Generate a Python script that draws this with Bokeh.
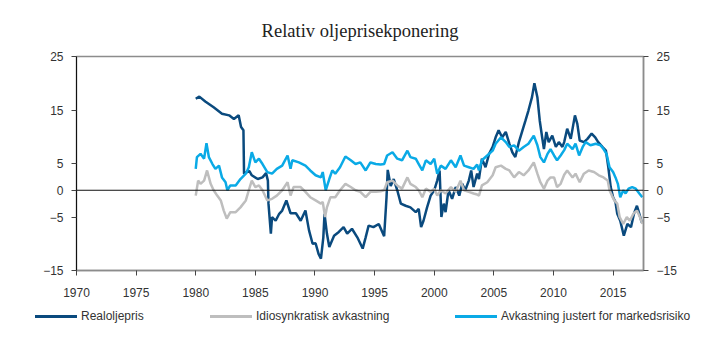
from bokeh.plotting import figure
from bokeh.models import Range1d, LinearAxis, FixedTicker, Span, Div
from bokeh.layouts import column
from bokeh.embed import file_html
from bokeh.resources import INLINE

title_text = "Relativ oljeprisekponering"
series_names = ["Realoljepris", "Idiosynkratisk avkastning", "Avkastning justert for markedsrisiko"]
x_ticks = [1970, 1975, 1980, 1985, 1990, 1995, 2000, 2005, 2010, 2015]
y_ticks = [-15, -5, 0, 5, 15, 25]

real_x = [1980.0, 1980.3, 1980.8, 1981.5, 1982.2, 1982.8, 1983.2, 1983.6, 1983.8, 1984.0, 1984.05, 1984.5,
          1984.7, 1985.2, 1985.6, 1985.9, 1986.05, 1986.1, 1986.3, 1986.4, 1986.7, 1987.0, 1987.25, 1987.6,
          1987.95, 1988.4, 1988.8, 1989.2, 1989.5, 1989.8, 1990.05, 1990.3, 1990.5, 1990.7, 1990.8, 1991.0,
          1991.2, 1991.6, 1992.0, 1992.4, 1992.7, 1993.1, 1993.55, 1994.0, 1994.25, 1994.5, 1994.9, 1995.35,
          1995.8, 1996.0, 1996.1, 1996.35, 1996.6, 1996.9, 1997.2, 1997.6, 1998.0, 1998.45, 1998.7, 1998.9,
          1999.1, 1999.4, 1999.7, 2000.0, 2000.25, 2000.45, 2000.6, 2000.8, 2000.95, 2001.2, 2001.5, 2001.8,
          2002.1, 2002.35, 2002.6, 2002.9, 2003.1, 2003.3, 2003.6, 2003.75, 2004.0, 2004.3, 2004.6, 2004.9,
          2005.15, 2005.4, 2005.7, 2006.0, 2006.3, 2006.55, 2006.8, 2007.1, 2007.4, 2007.65, 2007.9, 2008.2,
          2008.4, 2008.65, 2008.85, 2009.05, 2009.2, 2009.4, 2009.6, 2009.9, 2010.2, 2010.45, 2010.75, 2010.9,
          2011.15, 2011.45, 2011.8, 2012.0, 2012.2, 2012.55, 2012.85, 2013.2, 2013.5, 2013.75, 2014.1, 2014.4,
          2014.6, 2014.8, 2015.0, 2015.2, 2015.35, 2015.6, 2015.9, 2016.2, 2016.5, 2016.75, 2017.0, 2017.2,
          2017.4]
real_y = [17.1, 17.5, 16.6, 15.5, 14.3, 14.0, 13.3, 14.0, 11.8, 11.2, 3.1, 3.6,
          2.8, 2.1, 2.4, 3.2, 1.8, -2.5, -8.1, -5.0, -5.7, -4.4, -3.8, -1.9,
          -4.3, -4.3, -5.7, -3.8, -7.5, -10.0, -9.9, -11.9, -12.8, -8.8, -4.4, -8.1,
          -10.6, -8.5, -7.8, -6.9, -8.1, -7.2, -8.8, -10.9, -8.8, -6.6, -6.9, -6.3,
          -8.6, -1.3, 3.8, 0.8, 2.1, 0.0, -2.5, -2.9, -3.2, -4.1, -3.5, -6.9,
          -5.7, -3.2, -1.0, 0.0, 1.8, 3.7, -5.0, -2.5, -4.1, 0.0, -1.6, 0.6,
          -1.0, 1.2, 0.0, 1.8, 3.7, 0.6, 3.1, 2.1, 5.9, 4.3, 6.8, 8.1,
          9.9, 11.2, 9.9, 10.9, 8.7, 7.1, 6.2, 9.0, 11.2, 13.0, 14.9, 17.4,
          20.0, 17.4, 13.0, 9.9, 7.7, 10.9, 9.0, 10.2, 8.1, 9.0, 8.1, 9.0,
          11.5, 9.6, 14.0, 12.4, 9.3, 9.0, 9.6, 10.6, 9.9, 9.0, 8.1, 7.4,
          4.3, 0.6, -1.3, -2.2, -4.4, -5.7, -8.5, -6.3, -6.9, -4.4, -2.9, -4.4,
          -6.0]

idio_x = [1980.0, 1980.2, 1980.4, 1980.7, 1980.95, 1981.25, 1981.5, 1981.8, 1982.1, 1982.35, 1982.6, 1982.9,
          1983.35, 1983.75, 1984.2, 1984.45, 1984.7, 1985.0, 1985.3, 1985.6, 1986.0, 1986.4, 1986.8, 1987.25,
          1987.7, 1987.95, 1988.2, 1988.8, 1989.2, 1989.6, 1990.05, 1990.5, 1990.65, 1990.85, 1991.0, 1991.3,
          1991.7, 1992.1, 1992.55, 1993.0, 1993.4, 1993.8, 1994.25, 1994.65, 1995.1, 1995.5, 1995.8, 1996.05,
          1996.5, 1996.9, 1997.3, 1997.75, 1998.0, 1998.45, 1998.7, 1999.0, 1999.3, 1999.7, 2000.0, 2000.25,
          2000.55, 2000.95, 2001.4, 2001.8, 2002.2, 2002.5, 2002.9, 2003.3, 2003.6, 2003.75, 2004.0, 2004.45,
          2004.9, 2005.15, 2005.6, 2006.0, 2006.3, 2006.7, 2007.1, 2007.5, 2007.9, 2008.35, 2008.65, 2008.9,
          2009.2, 2009.5, 2009.75, 2010.05, 2010.3, 2010.6, 2010.9, 2011.15, 2011.6, 2011.85, 2012.2, 2012.55,
          2012.95, 2013.4, 2013.8, 2014.2, 2014.55, 2014.7, 2014.9, 2015.1, 2015.35, 2015.55, 2015.85, 2016.15,
          2016.4, 2016.7, 2017.0, 2017.25, 2017.45]
idio_y = [-1.0, 1.8, 1.2, 1.8, 3.7, 1.2, 0.0, -1.0, -1.9, -3.8, -5.3, -4.1,
          -4.1, -3.2, -1.9, 0.0, 1.8, 0.6, 0.9, 0.0, -1.9, -1.6, -1.0, 0.0,
          1.5, -1.0, 0.6, 0.6, -0.3, -1.3, -1.9, -2.5, -2.2, -5.0, -3.2, -1.3,
          -1.3, 0.0, 1.2, 0.6, 0.0, -0.3, -1.3, -0.3, -0.3, -0.2, 0.0, 1.5,
          1.8, 0.9, 0.3, 2.4, 1.2, 0.6, 0.0, -1.3, 0.3, -0.3, 0.3, -1.0,
          0.0, -0.6, 0.6, -0.3, 1.8, 0.0, -0.3, -0.6, -0.8, -1.0, 0.9, 1.5,
          2.8, 4.3, 4.6, 4.0, 3.7, 2.4, 3.4, 2.8, 3.7, 5.2, 3.1, 1.5,
          0.3, 1.8, 2.4, 2.4, 0.6, 1.2, 2.9, 3.7, 2.4, 3.1, 1.5, 3.1,
          3.7, 3.4, 2.8, 2.4, 1.8, 0.0, -1.0, -1.9, -2.5, -5.0, -6.3, -5.0,
          -5.7, -4.4, -3.8, -5.0, -6.3]

adj_x = [1980.0, 1980.1, 1980.4, 1980.7, 1980.9, 1981.1, 1981.4, 1981.65, 1981.95, 1982.2, 1982.5, 1982.65,
         1982.9, 1983.35, 1983.75, 1984.2, 1984.45, 1984.7, 1985.0, 1985.3, 1985.6, 1986.0, 1986.4, 1986.8,
         1987.25, 1987.7, 1987.95, 1988.1, 1988.65, 1989.2, 1989.6, 1990.05, 1990.5, 1990.65, 1990.9, 1991.2,
         1991.45, 1991.7, 1992.1, 1992.55, 1993.0, 1993.4, 1993.8, 1994.25, 1994.65, 1995.1, 1995.5, 1995.8,
         1996.05, 1996.5, 1996.9, 1997.3, 1997.75, 1998.0, 1998.45, 1998.7, 1999.0, 1999.3, 1999.7, 2000.0,
         2000.25, 2000.55, 2000.95, 2001.4, 2001.8, 2002.2, 2002.5, 2002.9, 2003.3, 2003.6, 2003.75, 2004.0,
         2004.45, 2004.9, 2005.15, 2005.6, 2006.0, 2006.3, 2006.7, 2007.1, 2007.5, 2007.9, 2008.35, 2008.65,
         2008.9, 2009.2, 2009.5, 2009.75, 2010.05, 2010.3, 2010.6, 2010.9, 2011.15, 2011.6, 2011.85, 2012.15,
         2012.45, 2012.7, 2013.1, 2013.55, 2013.95, 2014.2, 2014.45, 2014.7, 2015.0, 2015.2, 2015.4, 2015.6,
         2015.85, 2016.05, 2016.3, 2016.6, 2016.9, 2017.2, 2017.45]
adj_y = [4.0, 6.2, 6.8, 5.9, 8.8, 6.2, 4.9, 4.0, 4.6, 2.4, 1.5, 0.0,
         0.9, 0.9, 2.1, 3.1, 4.3, 7.1, 5.2, 5.9, 4.9, 3.4, 3.1, 4.0,
         4.6, 6.5, 4.0, 5.6, 5.2, 4.6, 3.7, 2.8, 2.4, 3.4, 0.0, 2.1,
         3.7, 3.1, 4.3, 6.3, 5.6, 4.9, 5.2, 3.7, 5.2, 4.9, 4.8, 4.9,
         6.5, 7.1, 5.9, 5.6, 7.4, 6.2, 5.9, 4.9, 3.7, 5.6, 4.9, 5.9,
         3.1, 4.6, 4.0, 5.6, 4.3, 6.5, 4.6, 4.3, 4.0, 4.8, 3.7, 5.6,
         6.5, 7.4, 8.7, 9.9, 9.0, 8.1, 8.4, 7.4, 8.1, 8.7, 10.2, 8.4,
         6.2, 5.2, 6.8, 7.7, 6.5, 5.6, 6.5, 7.5, 8.7, 7.7, 8.7, 6.5,
         8.1, 9.0, 8.4, 8.7, 8.4, 7.7, 6.8, 4.3, 3.4, 2.4, 1.2, -1.3,
         0.0, -0.6, 0.3, 0.6, 0.3, -0.6, -1.3]

colors = ["#0A4A7E", "#BEBEBE", "#0AAAE6"]
tick_font = "Liberation Sans"
label_color = "#333333"

p = figure(width=719, height=305, output_backend="svg", toolbar_location=None,
           x_range=Range1d(1970, 2017.55), y_range=Range1d(-15, 25),
           min_border_left=76, min_border_right=76, min_border_top=56, min_border_bottom=35)
p.grid.visible = False
p.outline_line_color = "#8C8C8C"
p.outline_line_width = 1.5
p.background_fill_color = "white"
p.border_fill_color = "white"

p.title.text = title_text
p.title.align = "center"
p.title.text_font = "Liberation Serif"
p.title.text_font_size = "18.5px"
p.title.text_font_style = "normal"
p.title.text_color = "#222222"
p.title.standoff = 32

# axes
xa = p.xaxis[0]
xa.ticker = FixedTicker(ticks=x_ticks)
xa.axis_line_color = "#8C8C8C"
xa.axis_line_width = 1.5
xa.major_tick_line_color = "#444444"
xa.major_tick_out = 5
xa.major_tick_in = 0
xa.minor_tick_line_color = None
xa.major_label_text_font = tick_font
xa.major_label_text_font_size = "12px"
xa.major_label_text_color = label_color
xa.major_label_standoff = 12

ya = p.yaxis[0]
ya.ticker = FixedTicker(ticks=y_ticks)
ya.axis_line_color = "#111111"
ya.axis_line_width = 1
ya.major_tick_line_color = "#444444"
ya.major_tick_out = 5
ya.major_tick_in = 0
ya.minor_tick_line_color = None
ya.major_label_text_font = tick_font
ya.major_label_text_font_size = "12px"
ya.major_label_text_color = label_color
ya.major_label_standoff = 8

ra = LinearAxis(ticker=FixedTicker(ticks=y_ticks))
ra.axis_line_color = "#8C8C8C"
ra.axis_line_width = 1.5
ra.major_tick_line_color = "#444444"
ra.major_tick_out = 5
ra.major_tick_in = 0
ra.minor_tick_line_color = None
ra.major_label_text_font = tick_font
ra.major_label_text_font_size = "12px"
ra.major_label_text_color = label_color
ra.major_label_standoff = 8
p.add_layout(ra, "right")

p.add_layout(Span(location=0, dimension="width", line_color="#111111", line_width=1))

p.line(real_x, real_y, line_color=colors[0], line_width=2.5)
p.line(idio_x, idio_y, line_color=colors[1], line_width=2.5)
p.line(adj_x, adj_y, line_color=colors[2], line_width=2.5)

# legend strip (HTML) below the chart
legend_left = [35, 210, 455]
parts = []
for name, col, lx in zip(series_names, colors, legend_left):
    parts.append(
        f'<div style="position:absolute;left:{lx}px;top:10px;width:42px;height:3px;background:{col};"></div>'
        f'<div style="position:absolute;left:{lx + 46}px;top:4px;white-space:nowrap;line-height:14px;">{name}</div>'
    )
legend_html = ('<div style="position:relative;width:719px;height:36px;font-family:\'Liberation Sans\',Arial,sans-serif;'
               f'font-size:12px;color:{label_color};">' + "".join(parts) + '</div>')
legend_div = Div(text=legend_html, width=719, height=36, margin=(0, 0, 0, 0))

layout = column(p, legend_div, spacing=0)
open("out.html", "w").write(file_html(layout, INLINE))
